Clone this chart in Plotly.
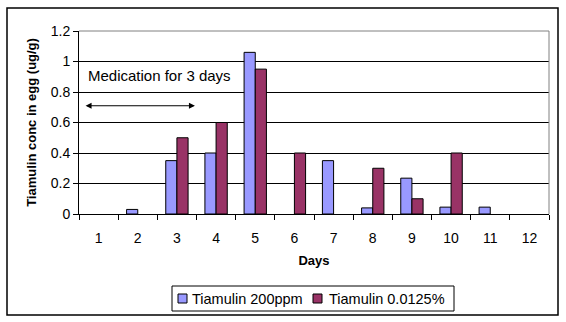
import plotly.graph_objects as go

days = list(range(1, 13))
tick_labels = [str(d) for d in days]
series_names = ["Tiamulin 200ppm", "Tiamulin 0.0125%"]
tiamulin_200ppm = [0, 0.03, 0.35, 0.4, 1.06, 0, 0.35, 0.04, 0.235, 0.045, 0.045, 0]
tiamulin_00125 = [0, 0, 0.5, 0.6, 0.95, 0.4, 0, 0.3, 0.1, 0.4, 0, 0]
y_ticks = [0, 0.2, 0.4, 0.6, 0.8, 1.0, 1.2]
y_tick_text = ["0", "0.2", "0.4", "0.6", "0.8", "1", "1.2"]

W, H = 566, 322
L, R, T, B = 79, 17, 31, 108
pw, ph = W - L - R, H - T - B

font = "Liberation Sans, Arial, sans-serif"
colors = ["#9999FF", "#993366"]

def nz(vals):
    return [v if v else None for v in vals]

fig = go.Figure()
for name, vals, c in zip(series_names, [tiamulin_200ppm, tiamulin_00125], colors):
    fig.add_trace(go.Bar(x=days, y=nz(vals), name=name, showlegend=False,
                         marker=dict(color=c, line=dict(color="black", width=1))))

def px_x(p):
    return (p - L) / pw
def px_y(p):
    return (H - B - p) / ph

fig.update_layout(
    width=W, height=H,
    margin=dict(l=L, r=R, t=T, b=B, autoexpand=False),
    paper_bgcolor="white", plot_bgcolor="white",
    barmode="group", bargap=0.43, bargroupgap=0,
    font=dict(family=font, size=12, color="black"),
    showlegend=False,
    xaxis=dict(range=[0.5, 12.5], tickmode="array", tickvals=days, ticktext=tick_labels,
               ticks="", showgrid=False, showline=True, linecolor="black", linewidth=1,
               tickfont=dict(size=14), ticklabelstandoff=11, automargin=False,
               minor=dict(tickmode="linear", tick0=0.5, dtick=1, ticks="outside",
                          ticklen=5, tickcolor="black", showgrid=False),
               title=dict(text="<b>Days</b>", font=dict(size=13), standoff=11),
               zeroline=False, fixedrange=True),
    yaxis=dict(range=[0, 1.2], tickmode="array", tickvals=y_ticks, ticktext=y_tick_text,
               ticks="outside", ticklen=5, tickcolor="black",
               showgrid=True, gridcolor="black", gridwidth=1,
               showline=True, linecolor="black", linewidth=1,
               tickfont=dict(size=14), automargin=False,
               title=dict(text="<b>Tiamulin conc in egg (ug/g)</b>", font=dict(size=13), standoff=11),
               zeroline=False, fixedrange=True),
)

# plot area top and right border (gray)
fig.add_shape(type="line", xref="paper", yref="paper", x0=0, x1=1, y0=1, y1=1,
              line=dict(color="#808080", width=1))
fig.add_shape(type="line", xref="paper", yref="paper", x0=1, x1=1, y0=0, y1=1,
              line=dict(color="#808080", width=1))
# outer chart border
fig.add_shape(type="rect", xref="paper", yref="paper",
              x0=px_x(7), x1=px_x(558), y0=px_y(315), y1=px_y(8),
              line=dict(color="black", width=1.5), fillcolor="rgba(0,0,0,0)")

# legend (compact, Excel style)
fig.add_shape(type="rect", xref="paper", yref="paper",
              x0=px_x(172), x1=px_x(454), y0=px_y(311), y1=px_y(286),
              line=dict(color="black", width=1), fillcolor="white")
leg_y = 298.5
for name, c, sx, tx in zip(series_names, colors, [178, 313], [190, 327]):
    fig.add_shape(type="rect", xref="paper", yref="paper",
                  x0=px_x(sx), x1=px_x(sx + 9), y0=px_y(leg_y + 4.5), y1=px_y(leg_y - 4.5),
                  line=dict(color="black", width=1), fillcolor=c)
    fig.add_annotation(x=px_x(tx), y=px_y(leg_y), xref="paper", yref="paper", text=name,
                       showarrow=False, xanchor="left", yanchor="middle",
                       font=dict(size=14.5))

fig.add_annotation(x=2.555, y=0.905, xref="x", yref="y", text="Medication for 3 days",
                   showarrow=False, font=dict(size=15))
fig.add_annotation(x=3.46, y=0.71, ax=0.63, ay=0.71, xref="x", yref="y", axref="x", ayref="y",
                   text="", showarrow=True, arrowhead=2, arrowside="end+start",
                   arrowsize=1, arrowwidth=1.2, arrowcolor="black")

fig.write_html("out.html")
